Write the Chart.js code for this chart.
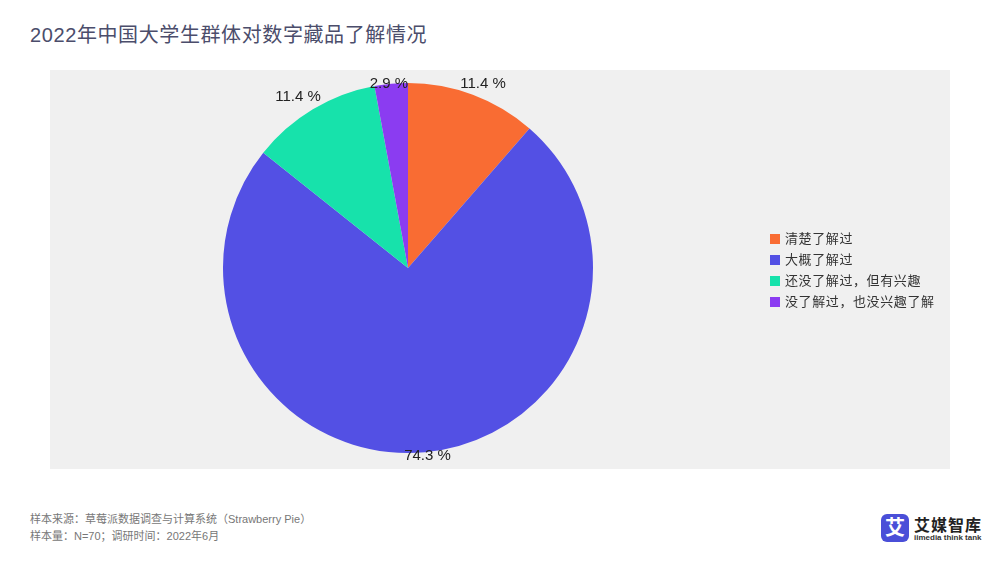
<!DOCTYPE html>
<html>
<head>
<meta charset="utf-8">
<script src="https://cdn.jsdelivr.net/npm/chart.js@4"></script>
<style>
  body { margin: 0; width: 1000px; height: 563px; background: #fff; position: relative; overflow: hidden;
         font-family: "Liberation Sans", "Noto Sans CJK SC", sans-serif; }
  #title { position: absolute; left: 30px; top: 19px; font-size: 20px; color: #4b4d6b; letter-spacing: 0.6px; }
  #plot { position: absolute; left: 50px; top: 70px; width: 900px; height: 399px; background: #f0f0f0; }
  #legend { position: absolute; left: 770px; top: 229px; font-size: 13px; color: #333; letter-spacing: 0.6px; }
  #legend div { height: 21px; line-height: 19px; }
  #legend span.box { display: inline-block; width: 10px; height: 10px; margin-right: 5px; vertical-align: -1px; }
  #foot { position: absolute; left: 30px; top: 511px; font-size: 11px; color: #777; line-height: 17px; }
  #logo { position: absolute; left: 881px; top: 514px; width: 28px; height: 28px; background: #4a4fd8; border-radius: 6px;
          color: #fff; font-size: 20px; font-weight: bold; text-align: center; line-height: 28px; }
  #brand { position: absolute; left: 914px; top: 512px; font-size: 16px; font-weight: bold; color: #222; letter-spacing: 1px; }
  #brand2 { position: absolute; left: 914px; top: 533px; font-size: 8px; font-weight: bold; color: #333; }
</style>
</head>
<body>
<div id="title">2022年中国大学生群体对数字藏品了解情况</div>
<div id="plot"><canvas id="pie"></canvas></div>
<div id="legend"></div>
<div id="foot">样本来源：草莓派数据调查与计算系统（Strawberry Pie）<br>样本量：N=70；调研时间：2022年6月</div>
<div id="logo">艾</div>
<div id="brand">艾媒智库</div>
<div id="brand2">iimedia think tank</div>
<script>
const categories = ["清楚了解过", "大概了解过", "还没了解过，但有兴趣", "没了解过，也没兴趣了解"];
const shares = [11.4, 74.3, 11.4, 2.9];
const colors = ["#f96c33", "#5350e4", "#17e2ab", "#8b3cf1"];

const legend = document.getElementById("legend");
categories.forEach((c, i) => {
  const row = document.createElement("div");
  row.innerHTML = `<span class="box" style="background:${colors[i]}"></span>${c}`;
  legend.appendChild(row);
});

// outside labels, pushed back into the plot area like plotly does
const outsideLabels = {
  id: "outsideLabels",
  afterDatasetsDraw(chart) {
    const ctx = chart.ctx;
    const meta = chart.getDatasetMeta(0);
    ctx.save();
    ctx.font = "15px 'Liberation Sans', Arial, sans-serif";
    ctx.fillStyle = "#222";
    ctx.textAlign = "center";
    ctx.textBaseline = "middle";
    meta.data.forEach((arc, i) => {
      const p = arc.getProps(["x", "y", "startAngle", "endAngle", "outerRadius"], true);
      const mid = (p.startAngle + p.endAngle) / 2;
      const txt = shares[i].toFixed(1) + " %";
      const w = ctx.measureText(txt).width;
      const h = 16;
      const r = p.outerRadius + 6;
      let x = p.x + r * Math.cos(mid) + (w / 2) * Math.cos(mid);
      let y = p.y + r * Math.sin(mid) + (h / 2) * Math.sin(mid);
      y = Math.max(14, Math.min(chart.height - 13, y));
      ctx.fillText(txt, x, y);
    });
    ctx.restore();
  }
};

new Chart(document.getElementById("pie"), {
  type: "pie",
  data: {
    labels: categories,
    datasets: [{ data: shares, backgroundColor: colors, borderWidth: 0 }]
  },
  options: {
    responsive: true,
    maintainAspectRatio: false,
    animation: false,
    layout: { padding: { left: 173, right: 357, top: 13, bottom: 16 } },
    plugins: { legend: { display: false }, tooltip: { enabled: false } }
  },
  plugins: [outsideLabels]
});
</script>
</body>
</html>
